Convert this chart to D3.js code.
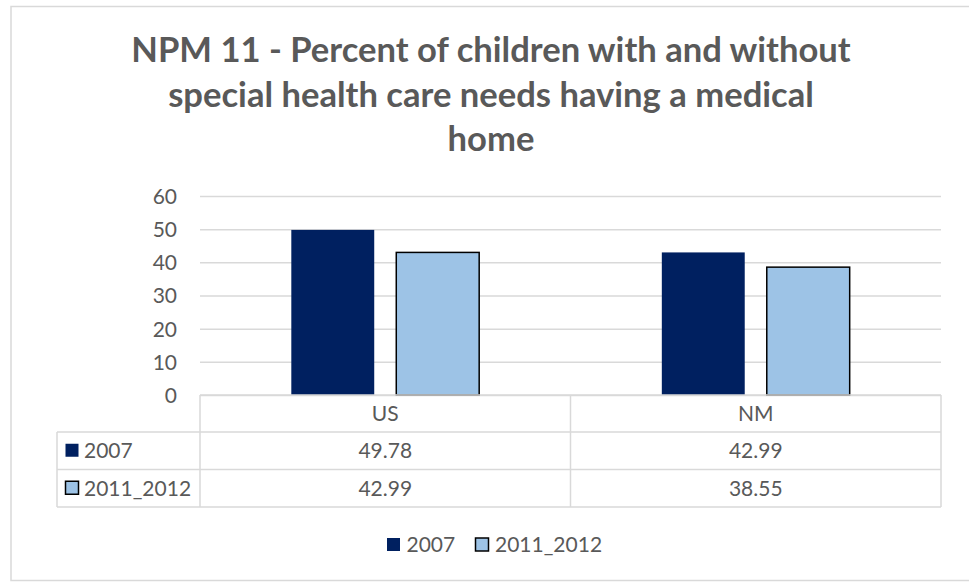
<!DOCTYPE html>
<html><head><meta charset="utf-8">
<script src="https://d3js.org/d3.v7.min.js"></script>
<style>
html,body{margin:0;padding:0;background:#fff;}
svg{display:block;font-family:Lato,"Open Sans",sans-serif;}
</style></head>
<body>
<script>
const titleLines = ["NPM 11 - Percent of children with and without", "special health care needs having a medical", "home"];
const categories = ["US", "NM"];
const seriesNames = ["2007", "2011_2012"];
const values2007 = [49.78, 42.99];
const values2011_2012 = [42.99, 38.55];
const yTicks = [0, 10, 20, 30, 40, 50, 60];

const W = 969, H = 582;
const colors = {"2007": "#002060", "2011_2012": "#9DC3E6"};
const strokes = {"2007": "none", "2011_2012": "#000"};
const textColor = "#595959";
const gridColor = "#D9D9D9";
const fs = 21;

const svg = d3.select("body").append("svg").attr("width", W).attr("height", H);

// chart border
svg.append("rect").attr("x", 11).attr("y", 6.5).attr("width", W + 10).attr("height", 574)
  .attr("fill", "none").attr("stroke", gridColor).attr("stroke-width", 1.5);

// title
const title = svg.append("g");
titleLines.forEach((t, i) => {
  title.append("text").attr("x", 491).attr("y", 62 + i * 44.5)
    .attr("text-anchor", "middle").attr("fill", textColor)
    .attr("font-weight", "bold").attr("font-size", 34.6).text(t);
});

const plot = {left: 200, right: 941, top: 196, bottom: 395};
const y = d3.scaleLinear().domain([0, 60]).range([plot.bottom, plot.top]);
const x0 = d3.scaleBand().domain(categories).range([plot.left, plot.right]).padding(0);
const x1 = d3.scaleBand().domain(seriesNames).range([0, x0.bandwidth()]).paddingInner(0.21).paddingOuter(0.87);

// gridlines via axis
const yAxis = d3.axisLeft(y).tickValues(yTicks).tickSize(-(plot.right - plot.left)).tickFormat(d3.format("d"));
const ga = svg.append("g").attr("transform", `translate(${plot.left},0)`).call(yAxis);
ga.select(".domain").remove();
ga.selectAll(".tick line").attr("stroke", gridColor).attr("stroke-width", 1.5);
ga.selectAll(".tick text").attr("fill", textColor).attr("font-size", fs)
  .attr("x", -23).attr("dy", "0.35em").attr("font-family", "Lato");

// bars
const data = categories.map((c, i) => ({cat: c, vals: [
  {s: "2007", v: values2007[i]}, {s: "2011_2012", v: values2011_2012[i]}]}));
const groups = svg.append("g").selectAll("g").data(data).join("g")
  .attr("transform", d => `translate(${x0(d.cat)},0)`);
groups.selectAll("rect").data(d => d.vals).join("rect")
  .attr("x", d => x1(d.s)).attr("width", x1.bandwidth())
  .attr("y", d => y(d.v)).attr("height", d => y(0) - y(d.v))
  .attr("fill", d => colors[d.s])
  .attr("stroke", d => strokes[d.s]).attr("stroke-width", 1.5);

// data table
const rowH = [395, 432, 469.5, 507];
const tableLeft = 57;
const tg = svg.append("g");
const lineAttrs = sel => sel.attr("stroke", gridColor).attr("stroke-width", 1.5);
tg.append("line").attr("x1", plot.left).attr("x2", plot.right).attr("y1", rowH[0]).attr("y2", rowH[0]).call(lineAttrs);
[1, 2, 3].forEach(i => tg.append("line").attr("x1", tableLeft).attr("x2", plot.right).attr("y1", rowH[i]).attr("y2", rowH[i]).call(lineAttrs));
tg.append("line").attr("x1", tableLeft).attr("x2", tableLeft).attr("y1", rowH[1]).attr("y2", rowH[3]).call(lineAttrs);
[plot.left, x0("NM"), plot.right].forEach(xv =>
  tg.append("line").attr("x1", xv).attr("x2", xv).attr("y1", rowH[0]).attr("y2", rowH[3]).call(lineAttrs));

categories.forEach(c => {
  tg.append("text").attr("x", x0(c) + x0.bandwidth() / 2).attr("y", (rowH[0] + rowH[1]) / 2)
    .attr("dy", "0.35em").attr("text-anchor", "middle").attr("fill", textColor).attr("font-size", fs).text(c);
});
const rows = [{s: "2007", vals: values2007}, {s: "2011_2012", vals: values2011_2012}];
rows.forEach((r, ri) => {
  const cy = (rowH[ri + 1] + rowH[ri + 2]) / 2;
  tg.append("rect").attr("x", 65.5).attr("y", cy - 7).attr("width", 13).attr("height", 13)
    .attr("fill", colors[r.s]).attr("stroke", strokes[r.s]).attr("stroke-width", 1.5);
  tg.append("text").attr("x", 84).attr("y", cy).attr("dy", "0.35em")
    .attr("fill", textColor).attr("font-size", fs).text(r.s);
  r.vals.forEach((v, ci) => {
    tg.append("text").attr("x", x0(categories[ci]) + x0.bandwidth() / 2).attr("y", cy).attr("dy", "0.35em")
      .attr("text-anchor", "middle").attr("fill", textColor).attr("font-size", fs).text(d3.format(".2f")(v));
  });
});

// legend
const lg = svg.append("g");
const legendX = [387, 475.5];
seriesNames.forEach((s, i) => {
  lg.append("rect").attr("x", legendX[i]).attr("y", 538).attr("width", 13).attr("height", 13)
    .attr("fill", colors[s]).attr("stroke", strokes[s]).attr("stroke-width", 1.5);
  lg.append("text").attr("x", legendX[i] + 19.5).attr("y", 545).attr("dy", "0.35em")
    .attr("fill", textColor).attr("font-size", fs).text(s);
});
</script>
</body></html>
